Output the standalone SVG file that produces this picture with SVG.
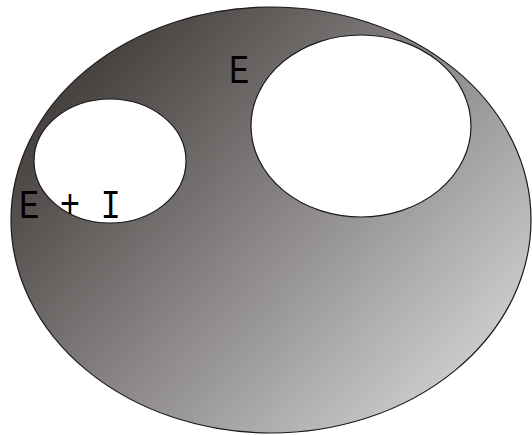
<svg xmlns="http://www.w3.org/2000/svg" width="532" height="435" viewBox="0 0 532 435">
<style>
.hole{fill:#ffffff;stroke:#1a1a1a;stroke-width:1.2}
.outer{stroke:#1a1a1a;stroke-width:1.2}
.lbl{font-family:"Liberation Mono","DejaVu Sans Mono",monospace;font-size:34px;fill:#000}
</style>
<defs>
<linearGradient id="g" gradientUnits="userSpaceOnUse" x1="60" y1="30" x2="470" y2="420">
<stop offset="0" stop-color="#3a3432"/>
<stop offset="1" stop-color="#d6d6d6"/>
</linearGradient>
</defs>
<rect width="532" height="435" fill="#ffffff"/>
<g id="outer"><ellipse class="outer" cx="271" cy="220" rx="260" ry="213" fill="url(#g)"/></g>
<g id="hole-small"><ellipse class="hole" cx="110" cy="161" rx="76" ry="62"/></g>
<g id="hole-big"><ellipse class="hole" cx="361" cy="126" rx="110" ry="91"/></g>
<g id="label-E"><text class="lbl" transform="translate(229,83) scale(1,1.2)">E</text></g>
<g id="label-EI"><text class="lbl" transform="translate(19,218) scale(1,1.2)">E + I</text></g>
</svg>
